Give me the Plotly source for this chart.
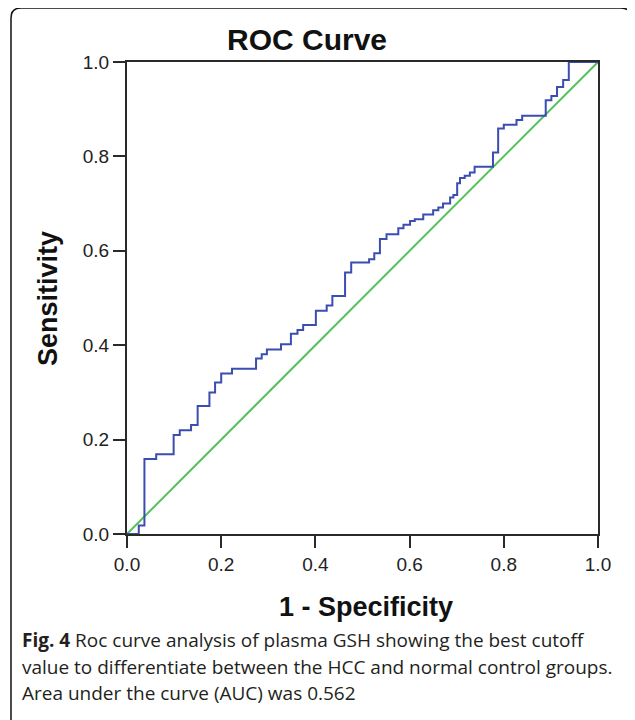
import plotly.graph_objects as go

# ---- data ----
fpr = [0.0, 0.025, 0.037, 0.062, 0.099, 0.112, 0.136, 0.150, 0.175, 0.187, 0.200, 0.223,
       0.274, 0.286, 0.297, 0.327, 0.348, 0.362, 0.374, 0.401, 0.424, 0.436, 0.463, 0.476,
       0.514, 0.525, 0.537, 0.551, 0.576, 0.587, 0.601, 0.611, 0.629, 0.650, 0.661, 0.671,
       0.686, 0.693, 0.701, 0.707, 0.717, 0.728, 0.738, 0.777, 0.788, 0.800, 0.827, 0.839,
       0.889, 0.901, 0.913, 0.926, 0.938, 1.0]
tpr = [0.0, 0.018, 0.159, 0.169, 0.210, 0.220, 0.231, 0.271, 0.300, 0.321, 0.340, 0.350,
       0.372, 0.381, 0.391, 0.402, 0.424, 0.432, 0.443, 0.473, 0.484, 0.504, 0.554, 0.575,
       0.582, 0.595, 0.625, 0.635, 0.648, 0.655, 0.663, 0.667, 0.677, 0.686, 0.692, 0.700,
       0.713, 0.718, 0.743, 0.754, 0.759, 0.766, 0.778, 0.808, 0.859, 0.867, 0.877, 0.886,
       0.919, 0.928, 0.947, 0.962, 1.0, 1.0]
ref_x = [0.0, 1.0]
ref_y = [0.0, 1.0]
tick_vals = [0.0, 0.2, 0.4, 0.6, 0.8, 1.0]
tick_text = ["0.0", "0.2", "0.4", "0.6", "0.8", "1.0"]

title_text = "ROC Curve"
x_title = "1 - Specificity"
y_title = "Sensitivity"
caption_lines = [
    "<b>Fig. 4</b> Roc curve analysis of plasma GSH showing the best cutoff",
    "value to differentiate between the HCC and normal control groups.",
    "Area under the curve (AUC) was 0.562",
]

# ---- layout geometry (pixels in the browser window; page body has an 8px margin) ----
OFF = 8
W, H = 635 - OFF, 720 - OFF
PLOT_L, PLOT_R, PLOT_T, PLOT_B = 127, 598, 62, 534   # window coords of the plot area
L, T = PLOT_L - OFF, PLOT_T - OFF
R, B = W - (PLOT_R - OFF), H - (PLOT_B - OFF)
PW, PH = W - L - R, H - T - B


def px(x):
    return (x - PLOT_L) / PW


def py(y):
    return (PLOT_B - y) / PH


fig = go.Figure()
fig.add_trace(go.Scatter(x=ref_x, y=ref_y, mode="lines",
                         line=dict(color="#55c15a", width=2), hoverinfo="skip"))
fig.add_trace(go.Scatter(x=fpr, y=tpr, mode="lines", line_shape="hv",
                         line=dict(color="#3a4db0", width=2), hoverinfo="skip"))

axis_common = dict(range=[0, 1], tickvals=tick_vals, ticktext=tick_text,
                   showgrid=False, zeroline=False, showline=True, linecolor="#2a2a2a",
                   linewidth=2, mirror=True, ticks="outside", ticklen=12, tickwidth=2,
                   tickcolor="#2a2a2a",
                   tickfont=dict(family="Liberation Sans, Arial", size=19, color="#222222"))

fig.update_layout(
    width=W, height=H, margin=dict(l=L, r=R, t=T, b=B, pad=0),
    plot_bgcolor="white", paper_bgcolor="white", showlegend=False,
    xaxis=dict(**axis_common),
    yaxis=dict(**axis_common),
)

# rounded frame around the figure
x0, x1 = px(11), px(631)
y0, y1 = py(735), py(8)
rx, ry = 10 / PW, 10 / PH
path = (f"M {x0},{y0} L {x0},{y1 - ry} Q {x0},{y1} {x0 + rx},{y1} "
        f"L {x1 - rx},{y1} Q {x1},{y1} {x1},{y1 - ry} L {x1},{y0}")
fig.add_shape(type="path", path=path, xref="paper", yref="paper",
              line=dict(color="#111111", width=1.5))

ann_font = "Liberation Sans, Arial"
fig.add_annotation(text=f"<b>{title_text}</b>", xref="paper", yref="paper", x=px(306.5), y=py(39),
                   showarrow=False, xanchor="center", yanchor="middle",
                   font=dict(family=ann_font, size=30, color="#111111"))
fig.add_annotation(text=f"<b>{x_title}</b>", xref="paper", yref="paper", x=px(365.5), y=py(607),
                   showarrow=False, xanchor="center", yanchor="middle",
                   font=dict(family=ann_font, size=27, color="#111111"))
fig.add_annotation(text=f"<b>{y_title}</b>", xref="paper", yref="paper", x=px(48), y=py(299),
                   showarrow=False, xanchor="center", yanchor="middle", textangle=-90,
                   font=dict(family=ann_font, size=27, color="#111111"))

for i, line in enumerate(caption_lines):
    fig.add_annotation(text=line, xref="paper", yref="paper", x=px(20), y=py(640 + 26.5 * i),
                       showarrow=False, xanchor="left", yanchor="middle", align="left",
                       font=dict(family="Open Sans", size=19, color="#231f20"))

fig.write_html("out.html")
